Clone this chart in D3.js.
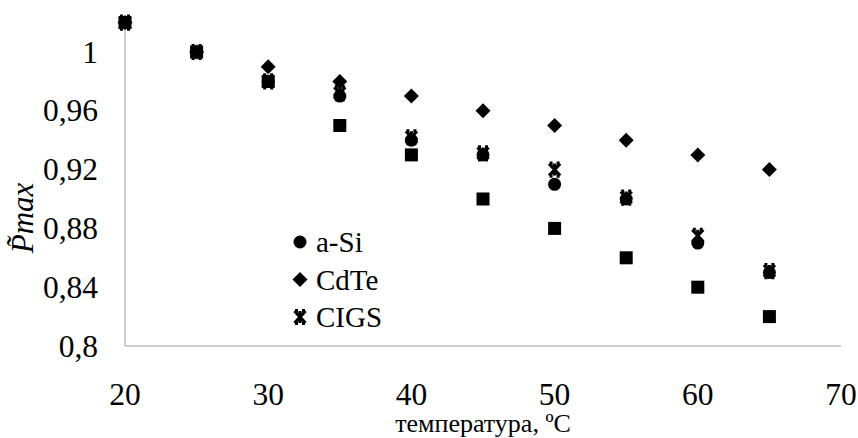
<!DOCTYPE html>
<html>
<head>
<meta charset="utf-8">
<script src="https://cdn.jsdelivr.net/npm/d3@7"></script>
<style>
  body { margin: 0; background: #fff; }
</style>
</head>
<body>
<svg id="chart" width="858" height="438" style="font-family: 'Liberation Serif', serif;"></svg>
<script>
// temperature, ºC
const temps = [20, 25, 30, 35, 40, 45, 50, 55, 60, 65];
// series without legend entry (squares)
const squareValues = [1.02, 1.0, 0.98, 0.95, 0.93, 0.90, 0.88, 0.86, 0.84, 0.82];
const aSiValues   = [1.02, 1.0, 0.98, 0.97, 0.94, 0.93, 0.91, 0.90, 0.87, 0.85];
const cdTeValues  = [1.02, 1.0, 0.99, 0.98, 0.97, 0.96, 0.95, 0.94, 0.93, 0.92];
const cigsValues  = [1.02, 1.0, 0.98, 0.972, 0.942, 0.931, 0.92, 0.901, 0.875, 0.851];
const xTicks = [20, 30, 40, 50, 60, 70];
const yTicks = [0.8, 0.84, 0.88, 0.92, 0.96, 1];
const legendNames = ["a-Si", "CdTe", "CIGS"];

const serif = "'Liberation Serif', 'Times New Roman', serif";
const svg = d3.select("#chart");

// Set the scales
const x = d3.scaleLinear().domain([20, 70]).range([125, 841]);
const y = d3.scaleLinear().domain([0.8, 1.0]).range([346, 52]);
const yTop = 1.02;

const fmt = d => d3.format(".2~f")(d).replace(".", ",");

// axis lines
svg.append("line")
    .attr("x1", x(20)).attr("x2", x(20))
    .attr("y1", y(0.8)).attr("y2", y(yTop))
    .attr("stroke", "#bfbfbf").attr("stroke-width", 1.5);
svg.append("line")
    .attr("x1", x(20)).attr("x2", x(70))
    .attr("y1", y(0.8)).attr("y2", y(0.8))
    .attr("stroke", "#bfbfbf").attr("stroke-width", 1.5);

// y tick labels
svg.append("g").selectAll("text")
    .data(yTicks)
    .enter().append("text")
    .attr("x", 98)
    .attr("y", d => y(d) + 10.5)
    .attr("text-anchor", "end")
    .style("font-family", serif)
    .style("font-size", "31.5px")
    .text(fmt);

// x tick labels
svg.append("g").selectAll("text")
    .data(xTicks)
    .enter().append("text")
    .attr("x", d => x(d))
    .attr("y", 405)
    .attr("text-anchor", "middle")
    .style("font-family", serif)
    .style("font-size", "31.5px")
    .text(d => d);

// axis titles
svg.append("text")
    .attr("x", (x(20) + x(70)) / 2)
    .attr("y", 432)
    .attr("text-anchor", "middle")
    .style("font-family", serif)
    .style("font-size", "26px")
    .text("температура, ºC");

svg.append("text")
    .attr("transform", "translate(33,218) rotate(-90)")
    .attr("text-anchor", "middle")
    .style("font-family", serif)
    .style("font-size", "31px")
    .style("font-style", "italic")
    .text("P\u0303max");

// marker painters
const markers = {
    square: g => g.append("rect").attr("x", -6.5).attr("y", -6.5).attr("width", 13).attr("height", 13),
    circle: g => g.append("circle").attr("r", 6.5),
    diamond: g => g.append("path").attr("d", "M0,-7.5L7.5,0L0,7.5L-7.5,0Z"),
    star: g => g.append("path")
        .attr("d", "M-5.5,-6L5.5,6M-5.5,6L5.5,-6M0,-6L0,6M-5,-6.5L-2,-6.5M2,-6.5L5,-6.5M-5,6.5L-2,6.5M2,6.5L5,6.5")
        .attr("stroke", "#000").attr("stroke-width", 3.2).attr("fill", "none")
};

const series = [
    { values: squareValues, marker: "square" },
    { values: aSiValues, marker: "circle" },
    { values: cdTeValues, marker: "diamond" },
    { values: cigsValues, marker: "star" }
];

// Create the points
series.forEach(s => {
    const pts = svg.append("g").attr("fill", "#000")
        .selectAll("g")
        .data(temps.map((t, i) => ({ t: t, v: s.values[i] })))
        .enter().append("g")
        .attr("transform", d => `translate(${x(d.t)},${y(d.v)})`);
    pts.each(function() { markers[s.marker](d3.select(this)); });
});

// legend
const legendMarkers = ["circle", "diamond", "star"];
const legend = svg.append("g").attr("fill", "#000");
legendNames.forEach((name, i) => {
    const row = legend.append("g").attr("transform", `translate(300,${252 + i * 37.5})`);
    markers[legendMarkers[i]](row.append("g").attr("transform", "translate(0,-10)"));
    row.append("text")
        .attr("x", 16)
        .attr("y", 0)
        .style("font-family", serif)
        .style("font-size", "29px")
        .text(name);
});
</script>
</body>
</html>
